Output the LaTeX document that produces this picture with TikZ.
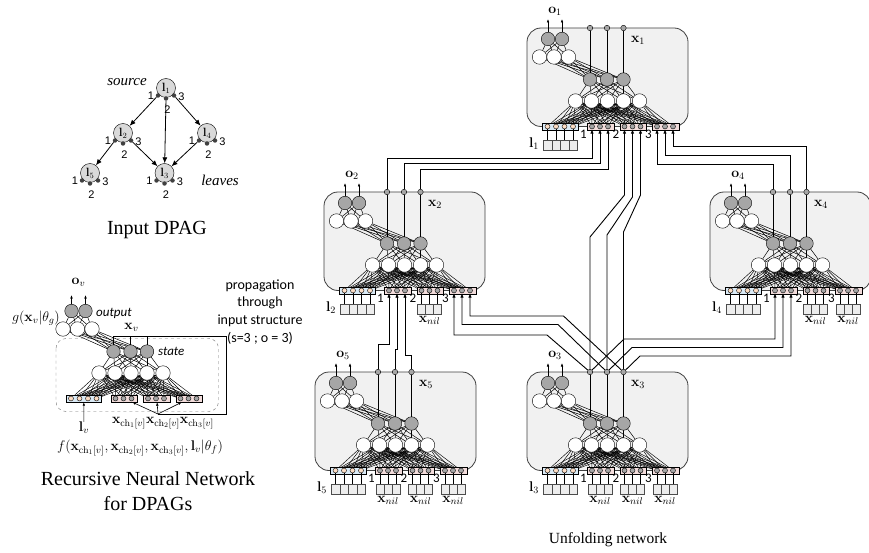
\documentclass[tikz,border=0pt]{standalone}
\usepackage{fix-cm}
\usepackage[no-math]{fontspec}
\setmainfont{Liberation Serif}
\newfontfamily\calib{Carlito}
\newfontfamily\arial{Liberation Sans}
\usepackage{tikz}
\usetikzlibrary{arrows.meta,positioning,calc}
\definecolor{Panel}{HTML}{F1F1F1}
\definecolor{Neuron}{HTML}{A6A6A6}
\definecolor{LabBar}{HTML}{DAEAF6}
\definecolor{LabDot}{HTML}{FBDCC4}
\definecolor{ChBar}{HTML}{F2DCDB}
\definecolor{Square}{HTML}{EDEDED}
\definecolor{Vertex}{HTML}{D9D9D9}
\definecolor{Dot}{HTML}{404040}
\pgfdeclarelayer{panel}
\pgfdeclarelayer{wires}
\pgfsetlayers{panel,wires,main}

% one recursive unit; #1 name prefix, (#2,#3) top-left corner
\newcommand{\netunit}[3]{%
  \begin{scope}[shift={(#2,#3)}]
    \node[grayn] (#1o1) at (21,11) {};
    \node[grayn] (#1o2) at (35,11) {};
    \node[whiten] (#1h1) at (12.5,29) {};
    \node[whiten] (#1h2) at (27,29) {};
    \node[whiten] (#1h3) at (41.5,29) {};
    \node[grayn] (#1s1) at (63,51.5) {};
    \node[grayn] (#1s2) at (80,51.5) {};
    \node[grayn] (#1s3) at (96.5,51.5) {};
    \foreach \ii in {1,...,5}
      \node[whiten] (#1k\ii) at ({32.5+16*\ii},73) {};
    \node[labbar] (#1lb) at (33.25,98.5) {};
    \foreach \ii in {1,...,4}
      \node[labdot] (#1l\ii) at ({12+8.5*\ii},98.5) {};
    \foreach \jj in {1,2,3} {
      \node[chbar] (#1b\jj) at ({41.25+32.5*\jj},98.5) {};
      \foreach \ii in {1,2,3}
        \node[chdot] (#1c\jj\ii) at ({24.5+32.5*\jj+8*\ii},98.5) {};
    }
  \end{scope}
  \begin{pgfonlayer}{wires}
    \foreach \ii in {1,2,3} {
      \draw[link] (#1h\ii) -- (#1o1);
      \draw[link] (#1h\ii) -- (#1o2);
      \foreach \jj in {1,2,3}
        \draw[link] (#1h\ii) -- (#1s\jj);
      \foreach \jj in {1,...,5}
        \draw[link] (#1k\jj) -- (#1s\ii);
    }
    \foreach \jj in {1,...,5} {
      \foreach \ii in {1,...,4}
        \draw[mesh] (#1l\ii) -- (#1k\jj);
      \foreach \bb in {1,2,3}
        \foreach \ii in {1,2,3}
          \draw[mesh] (#1c\bb\ii) -- (#1k\jj);
    }
  \end{pgfonlayer}}

% unfolded copy for vertex #4
\newcommand{\netpanel}[4]{%
  \begin{pgfonlayer}{panel}
    \draw[panel] (#2,#3) rectangle ++(161,98.5);
  \end{pgfonlayer}
  \netunit{#1}{#2}{#3}
  \begin{scope}[shift={(#2,#3)}]
    \node[tap] (#1t1) at (63,0) {};
    \node[tap] (#1t2) at (80,0) {};
    \node[tap] (#1t3) at (96.5,0) {};
    \coordinate (#1p1) at (21,-9);
    \coordinate (#1p2) at (35,-9);
    \node[lab] (#1o) at (28,-17) {$\mathbf{o}_{#4}$};
    \node[lab] (#1x) at (111,12) {$\mathbf{x}_{#4}$};
    \node[lab] (#1l) at (7,116) {$\mathbf{l}_{#4}$};
    \foreach \ii in {1,...,4}
      \node[sq] (#1q\ii) at ({12+8.5*\ii},117) {};
    \foreach \jj in {1,2,3}
      \node[digit,anchor=east] (#1d\jj) at ({27.5+32.5*\jj},106) {\jj};
  \end{scope}
  \draw[outarrow] (#1o1) -- (#1p1);
  \draw[outarrow] (#1o2) -- (#1p2);
  \foreach \ii in {1,2,3}
    \draw[link] (#1s\ii) -- (#1t\ii);
  \foreach \ii in {1,...,4}
    \draw[link] (#1l\ii) -- (#1q\ii);}

% empty child slot #2 of unit #1
\newcommand{\nilin}[2]{%
  \foreach \ii in {1,2,3} {
    \node[sq,minimum width=8pt,below=10.5pt of #1c#2\ii] (#1n#2\ii) {};
    \draw[link] (#1c#2\ii) -- (#1n#2\ii);
  }
  \node[lab,below=2pt of #1n#22] (#1nil#2) {$\mathbf{x}_{nil}$};}

\begin{document}
\begin{tikzpicture}[x=1pt,y=-1pt,
  every node/.style={inner sep=0pt},
  grayn/.style={circle,draw,fill=Neuron,minimum size=13.5pt},
  whiten/.style={circle,draw,fill=white,minimum size=14.5pt},
  labbar/.style={draw,fill=LabBar,minimum width=35.5pt,minimum height=7pt},
  chbar/.style={draw,fill=ChBar,minimum width=26.5pt,minimum height=7pt},
  labdot/.style={circle,draw,fill=LabDot,minimum size=5pt},
  chdot/.style={circle,draw,fill=Neuron,minimum size=5pt},
  tap/.style={circle,draw,fill=Neuron,minimum size=5.5pt},
  sq/.style={draw=black!70,fill=Square,minimum width=8.5pt,minimum height=10pt},
  panel/.style={draw=black!75,fill=Panel,rounded corners=14pt,line width=0.8pt},
  mesh/.style={line width=0.45pt},
  link/.style={line width=0.5pt},
  feed/.style={-{Latex[length=4.5pt,width=3.5pt]},line width=0.9pt},
  outarrow/.style={-{Latex[length=3.5pt,width=2.6pt]},line width=0.6pt},
  lab/.style={font=\fontsize{14}{16}\selectfont},
  digit/.style={font=\calib\fontsize{13}{15}\selectfont},
  note/.style={font=\calib\itshape\fontsize{13}{15}\selectfont},
  vertex/.style={circle,draw,fill=Vertex,minimum size=19pt,font=\fontsize{12}{14}\selectfont},
  vdot/.style={circle,fill=Dot,minimum size=4.5pt},
  vnum/.style={font=\arial\fontsize{11}{13}\selectfont},
  dagedge/.style={-{Latex[length=6pt,width=5pt]},line width=0.8pt},
  title/.style={font=\fontsize{20}{25}\selectfont,align=center}]
  \useasboundingbox (0,0) rectangle (869,553);

  % input DPAG
  \node[vertex] (v1) at (166,88) {$\mathbf{l}_1$};
  \node[vertex] (v2) at (123,133) {$\mathbf{l}_2$};
  \node[vertex] (v4) at (207,133) {$\mathbf{l}_4$};
  \node[vertex] (v5) at (90,173) {$\mathbf{l}_5$};
  \node[vertex] (v3) at (164.5,173) {$\mathbf{l}_3$};
  \foreach \v in {1,...,5} {
    \node[vdot] (v\v-a) at ($(v\v)+(-8,7.5)$) {};
    \node[vdot] (v\v-b) at ($(v\v)+(0,10.5)$) {};
    \node[vdot] (v\v-c) at ($(v\v)+(8,7.5)$) {};
    \node[vnum] at ($(v\v)+(-15,8)$) {1};
    \node[vnum] at ($(v\v)+(1.5,21.5)$) {2};
    \node[vnum] at ($(v\v)+(15.5,9)$) {3};
  }
  \draw[dagedge] (v1-a) -- (v2);
  \draw[dagedge] (v1-b) -- (v3);
  \draw[dagedge] (v1-c) -- (v4);
  \draw[dagedge] (v2-a) -- (v5);
  \draw[dagedge] (v2-c) -- (v3);
  \draw[dagedge] (v4-a) -- (v3);
  \node[font=\itshape\fontsize{15}{17}\selectfont] (src) at (127,82.5) {source};
  \node[font=\itshape\fontsize{15}{17}\selectfont] (lvs) at (220,180) {leaves};
  \node[title] (dpag) at (157,230) {Input DPAG};

  % recursive neural network
  \netunit{L}{50.5}{300}
  \draw[dashed,draw=black!55,rounded corners=10pt] (56,338.5) rectangle (218.5,411.5);
  \node[lab] (Lov) at (78.5,282) {$\mathbf{o}_v$};
  \coordinate (Lp1) at (71.5,295);
  \coordinate (Lp2) at (85.5,295);
  \draw[outarrow] (Lo1) -- (Lp1);
  \draw[outarrow] (Lo2) -- (Lp2);
  \node[lab,anchor=east] (Lg) at (60,318) {$g(\mathbf{x}_v|\theta_g)$};
  \node[note,anchor=west] (Lout) at (96,313) {output};
  \node[note,anchor=west] (Lst) at (158,351.5) {state};
  \node[lab] (Lxv) at (131.5,327) {$\mathbf{x}_v$};
  \coordinate (fbA) at (226,336.7);
  \coordinate (fbB) at (226,414);
  \coordinate (fb) at (158,414);
  \draw[link] (Ls1) -- (Ls1 |- fbA) -- (fbA) -- (fbB) -- (fb);
  \draw[link] (Ls2) -- (Ls2 |- fbA);
  \draw[link] (Ls3) -- (Ls3 |- fbA);
  \foreach \jj in {1,2,3}
    \draw[outarrow] (fb) -- (Lb\jj);
  \node[lab] (Llv) at (84,428) {$\mathbf{l}_v$};
  \draw[outarrow] (Llv) -- (Llb);
  \node[lab] (Lxch) at (163,423) {$\mathbf{x}_{\mathrm{ch}_1[v]}\mathbf{x}_{\mathrm{ch}_2[v]}\mathbf{x}_{\mathrm{ch}_3[v]}$};
  \node[lab] (Lf) at (140,448) {$f(\mathbf{x}_{\mathrm{ch}_1[v]},\mathbf{x}_{\mathrm{ch}_2[v]},\mathbf{x}_{\mathrm{ch}_3[v]},\mathbf{l}_v|\theta_f)$};
  \node[align=center,font=\calib\fontsize{14}{17.7}\selectfont] (prop) at (260,311.7)
    {propagation\\through\\input structure\\(s=3 ; o = 3)};
  \node[title] (rnn) at (148,491) {Recursive Neural Network\\for DPAGs};

  % unfolding network
  \netpanel{m1}{527}{28}{1}
  \netpanel{m2}{324}{192}{2}
  \netpanel{m4}{710}{192}{4}
  \netpanel{m5}{315}{372}{5}
  \netpanel{m3}{527}{372}{3}
  \nilin{m2}{2}
  \nilin{m4}{2}
  \nilin{m4}{3}
  \nilin{m5}{1}
  \nilin{m5}{2}
  \nilin{m5}{3}
  \nilin{m3}{1}
  \nilin{m3}{2}
  \nilin{m3}{3}

  \draw[feed] (m2t1) |- (m1c11 |- 0,158) -- (m1c11);
  \draw[feed] (m2t2) |- (m1c12 |- 0,163.5) -- (m1c12);
  \draw[feed] (m2t3) |- (m1c13 |- 0,169) -- (m1c13);
  \draw[feed] (m4t1) |- (m1c31 |- 0,164) -- (m1c31);
  \draw[feed] (m4t2) |- (m1c32 |- 0,155.5) -- (m1c32);
  \draw[feed] (m4t3) |- (m1c33 |- 0,146) -- (m1c33);
  \draw[feed] (m3t1) -- (m3t1 |- 0,237) -- (m1c21 |- 0,195) -- (m1c21);
  \draw[feed] (m3t2) -- (m3t2 |- 0,235) -- (m1c22 |- 0,197) -- (m1c22);
  \draw[feed] (m3t3) -- (m3t3 |- 0,232) -- (m1c23 |- 0,195) -- (m1c23);
  \draw[feed] (m3t1) -- ++(-43,-37) -| (m2c31);
  \draw[feed] (m3t2) -- ++(-49,-47.5) -| (m2c32);
  \draw[feed] (m3t3) -- ++(-60,-56) -| (m2c33);
  \draw[feed] (m3t1) -- ++(34,-33) -| (m4c11);
  \draw[feed] (m3t2) -- ++(25,-24.5) -| (m4c12);
  \draw[feed] (m3t3) -- ++(16.5,-16) -| (m4c13);
  \draw[feed] (m5t1) |- (m2c11 |- 0,344) -- (m2c11);
  \draw[feed] (m5t2) |- (m2c12 |- 0,349) -- (m2c12);
  \draw[feed] (m5t3) |- (m2c13 |- 0,355) -- (m2c13);

  \node[font=\fontsize{15.5}{18}\selectfont] (unf) at (608,540) {Unfolding network};
\end{tikzpicture}
\end{document}
